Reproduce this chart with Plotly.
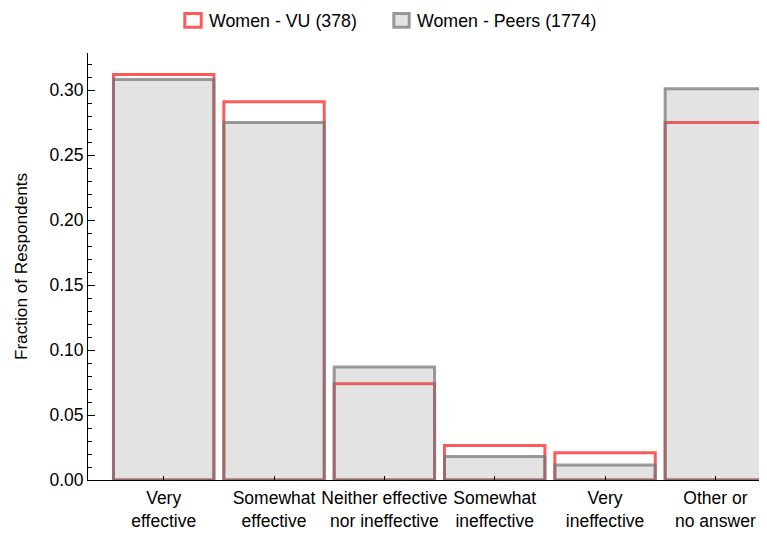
import plotly.graph_objects as go

categories = ["Very<br>effective", "Somewhat<br>effective", "Neither effective<br>nor ineffective",
              "Somewhat<br>ineffective", "Very<br>ineffective", "Other or<br>no answer"]
vu_values = [0.312, 0.291, 0.074, 0.0265, 0.021, 0.275]
peer_values = [0.308, 0.275, 0.087, 0.018, 0.0115, 0.301]
series_names = ["Women - VU (378)", "Women - Peers (1774)"]
y_tickvals = [0.0, 0.05, 0.10, 0.15, 0.20, 0.25, 0.30]

# page body has an 8px margin, so the figure is placed at (8, 8)
OFF = 8
W, H = 767 - OFF, 535 - OFF
ML, MR, MT, MB = 88 - OFF, 0, 53 - OFF, H - (480 - OFF)
PW, PH = W - ML - MR, H - MT - MB

def px(x):
    return (x - OFF - ML) / PW

def py(y):
    return (H - MB - (y - OFF)) / PH

FONT = "Liberation Sans, Arial, sans-serif"
RED = "#ff5a5a"
GRAY_FILL = "rgba(115,115,115,0.2)"
GRAY_LINE = "rgba(118,118,118,0.73)"

fig = go.Figure()
fig.add_trace(go.Bar(x=categories, y=vu_values, name=series_names[0], width=0.91,
                     marker=dict(color="rgba(0,0,0,0)", line=dict(color=RED, width=3)),
                     cliponaxis=False, showlegend=False))
fig.add_trace(go.Bar(x=categories, y=peer_values, name=series_names[1], width=0.91,
                     marker=dict(color=GRAY_FILL, line=dict(color=GRAY_LINE, width=3)),
                     cliponaxis=False, showlegend=False))

# manual legend
fig.add_shape(type="rect", xref="paper", yref="paper",
              x0=px(184.8), x1=px(201.2), y0=py(27.2), y1=py(13.5),
              line=dict(color=RED, width=3), fillcolor="white")
fig.add_shape(type="rect", xref="paper", yref="paper",
              x0=px(393.8), x1=px(409.2), y0=py(27.2), y1=py(13.5),
              line=dict(color=GRAY_LINE, width=3), fillcolor=GRAY_FILL)
fig.add_annotation(text=series_names[0], xref="paper", yref="paper", x=px(207), y=py(20.5),
                   xanchor="left", yanchor="middle", showarrow=False,
                   font=dict(family=FONT, size=17.8, color="black"))
fig.add_annotation(text=series_names[1], xref="paper", yref="paper", x=px(415), y=py(20.5),
                   xanchor="left", yanchor="middle", showarrow=False,
                   font=dict(family=FONT, size=17.8, color="black"))

fig.update_layout(
    width=W, height=H, barmode="overlay",
    margin=dict(l=ML, r=MR, t=MT, b=MB, pad=0, autoexpand=False),
    paper_bgcolor="white", plot_bgcolor="white",
    font=dict(family=FONT, size=17.5, color="black"),
)
fig.update_xaxes(range=[-0.686, 5.468], showline=True, linecolor="black", linewidth=1,
                 ticks="inside", ticklen=4, tickcolor="black", showgrid=False, zeroline=False,
                 tickfont=dict(size=17.5), ticklabelstandoff=2, automargin=False)
fig.update_yaxes(range=[0, PH / 1300], showline=True, linecolor="black", linewidth=1,
                 ticks="inside", ticklen=7, tickcolor="black", tickvals=y_tickvals,
                 tickformat=".2f", showgrid=False, zeroline=False, tickfont=dict(size=17.5),
                 minor=dict(ticks="inside", ticklen=4, tickcolor="black", dtick=0.01, tick0=0, showgrid=False),
                 title=dict(text="Fraction of Respondents", font=dict(size=17.2), standoff=17),
                 automargin=False)

fig.write_html("out.html")
